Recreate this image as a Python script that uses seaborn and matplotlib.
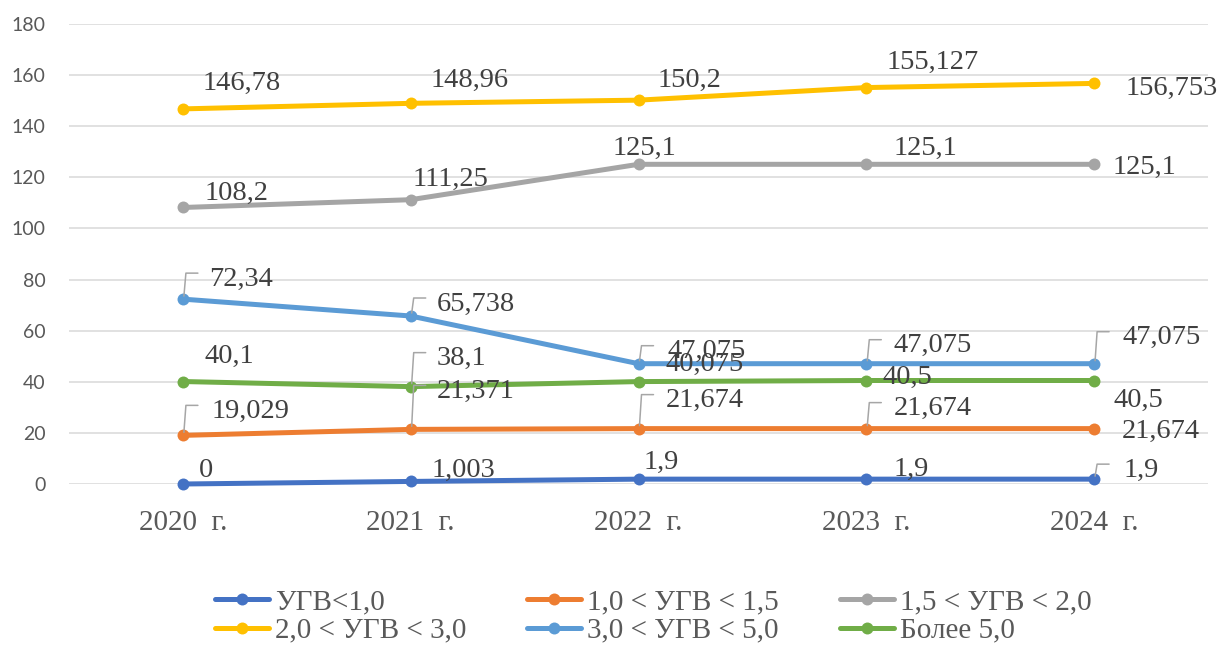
import numpy as np
import pandas as pd
import matplotlib
matplotlib.use("Agg")
import matplotlib.pyplot as plt
from matplotlib.lines import Line2D
from matplotlib.transforms import IdentityTransform
import seaborn as sns

# Data
years = ["2020  г.", "2021  г.", "2022  г.", "2023  г.", "2024  г."]
groups = ["УГВ<1,0", "1,0 < УГВ < 1,5", "1,5 < УГВ < 2,0",
          "2,0 < УГВ < 3,0", "3,0 < УГВ < 5,0", "Более 5,0"]
ugv_lt_1 = [0, 1.003, 1.9, 1.9, 1.9]
ugv_1_15 = [19.029, 21.371, 21.674, 21.674, 21.674]
ugv_15_2 = [108.2, 111.25, 125.1, 125.1, 125.1]
ugv_2_3 = [146.78, 148.96, 150.2, 155.127, 156.753]
ugv_3_5 = [72.34, 65.738, 47.075, 47.075, 47.075]
ugv_gt_5 = [40.1, 38.1, 40.075, 40.5, 40.5]
series = [ugv_lt_1, ugv_1_15, ugv_15_2, ugv_2_3, ugv_3_5, ugv_gt_5]

colors = ["#4472C4", "#ED7D31", "#A5A5A5", "#FFC000", "#5B9BD5", "#70AD47"]

# label placement (dx to left edge, dy of text centre, leader line) in pixels
label_pos = [
    [(16, 17, False), (21, 14, False), (5, 20, False), (27, 13, False), (29, 12, True)],
    [(29, 27, True), (26, 41, True), (27, 31, True), (27, 23, True), (28, 0, False)],
    [(22, 17, False), (2, 23, False), (-26, 19, False), (27, 19, False), (18, 0, False)],
    [(20, 29, False), (20, 26, False), (19, 23, False), (20, 28, False), (31, -2, False)],
    [(26, 23, True), (26, 15, True), (29, 15, True), (27, 21, True), (28, 29, True)],
    [(22, 28, False), (26, 31, True), (27, 20, False), (16, 6, False), (19, -17, False)],
]

df = pd.DataFrame({
    "year": years * len(groups),
    "group": np.repeat(groups, len(years)),
    "value": np.concatenate(series),
})

sns.set_theme(style="white")
plt.rcParams["font.family"] = ["Liberation Serif", "DejaVu Serif"]

fig = plt.figure(figsize=(12.21, 6.51), dpi=100)
ax = fig.add_axes([69 / 1221, 1 - 484 / 651, 1139 / 1221, 460 / 651])

sns.lineplot(data=df, x="year", y="value", hue="group", hue_order=groups,
             palette=colors, marker="o", markersize=8.6, markeredgewidth=0,
             linewidth=3.6, sort=False, legend=False, ax=ax, clip_on=False)

ax.set_xlim(-0.5, len(years) - 0.5)
ax.set_ylim(0, 180)
ax.set_yticks(np.arange(0, 181, 20))
ax.set_xlabel("")
ax.set_ylabel("")
ax.yaxis.grid(True, color="#D9D9D9", linewidth=1.1)
ax.set_axisbelow(True)
for s in ax.spines.values():
    s.set_visible(False)
ax.tick_params(axis="x", length=0, pad=19, labelsize=21, labelcolor="#595959")
ax.tick_params(axis="y", length=0, pad=17, labelsize=14, labelcolor="#595959")
for t in ax.get_yticklabels():
    t.set_fontfamily("Lato")

# data labels
for k, vals in enumerate(series):
    for i, v in enumerate(vals):
        dx, dy, leader = label_pos[k][i]
        txt = f"{v:g}".replace(".", ",")
        ax.annotate(txt, xy=(i, v), xytext=(dx, dy - 9.6), textcoords="offset pixels",
                    ha="left", va="baseline", fontsize=20.5, color="#404040",
                    annotation_clip=False, zorder=5)
        if leader:
            px, py = ax.transData.transform((i, v))
            xs = [px + 1, px + 3, px + 15]
            ys = [py + 3, py + dy + 3, py + dy + 3]
            fig.add_artist(Line2D(xs, ys, transform=IdentityTransform(),
                                  color="#A6A6A6", linewidth=1.1, zorder=4))

# legend, row-wise order in 3 columns
handles = ax.get_lines()[:len(groups)]
order = [0, 3, 1, 4, 2, 5]
fig.legend([handles[j] for j in order], [groups[j] for j in order],
           ncol=3, loc="upper left", bbox_to_anchor=(215 / 1221, 1 - 589 / 651),
           frameon=False, fontsize=21, handlelength=1.85, handletextpad=0.2,
           columnspacing=2.1, labelspacing=0.07, borderpad=0, borderaxespad=0,
           labelcolor="#595959")

fig.savefig("out.png", dpi=100)
